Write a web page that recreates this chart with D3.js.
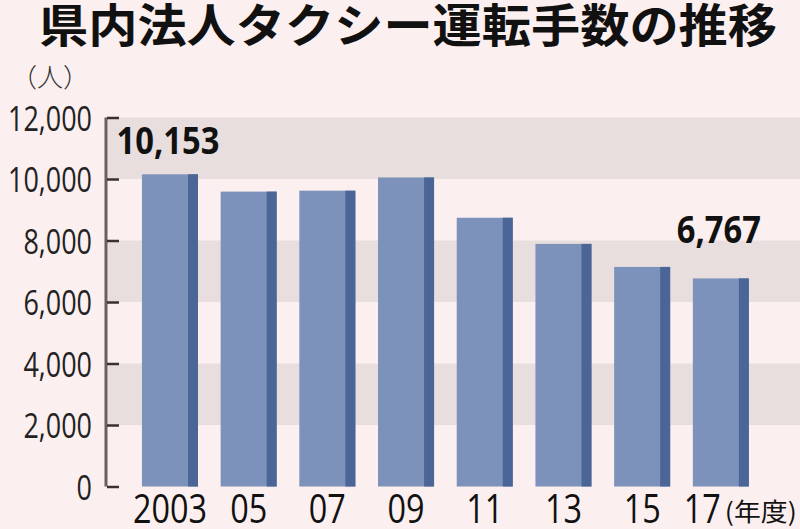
<!DOCTYPE html>
<html><head><meta charset="utf-8">
<script src="https://cdn.jsdelivr.net/npm/d3@7"></script>
<style>
html,body{margin:0;padding:0;background:#fcefef;}
svg{display:block;}
</style></head>
<body>
<svg id="chart" width="800" height="529"></svg>
<script>
const title = "県内法人タクシー運転手数の推移";
const unitLabel = "（人）";
const yearUnit = "(年度)";
const categories = ["2003","05","07","09","11","13","15","17"];
const values = [10153, 9590, 9620, 10050, 8740, 7890, 7140, 6767];
const yTicks = [0, 2000, 4000, 6000, 8000, 10000, 12000];
const bandRanges = [[10000, 12000], [6000, 8000], [2000, 4000]];
const labeledIndex = [0, 7];

const W = 800, H = 529;
const svg = d3.select("#chart");
const bg = "#fcefef", bandColor = "#e9dede";
const barLight = "#7d92bb", barDark = "#4b6696";
const numFont = "'Open Sans', 'Noto Sans', sans-serif";

svg.append("rect").attr("width", W).attr("height", H).attr("fill", bg);

const y = d3.scaleLinear().domain([0, 12000]).range([486.5, 117.5]);
const x = d3.scaleBand().domain(categories).range([130.6, 760.2])
  .paddingInner(0.288).paddingOuter(0.144);

// bands
svg.append("g").selectAll("rect").data(bandRanges).join("rect")
  .attr("x", 108).attr("width", W - 108)
  .attr("y", d => y(d[1])).attr("height", d => y(d[0]) - y(d[1]))
  .attr("fill", bandColor);

// bars
const bw = x.bandwidth(), dark = 10;
const bars = svg.append("g").selectAll("g").data(values).join("g");
bars.append("rect")
  .attr("x", (d, i) => x(categories[i])).attr("width", bw)
  .attr("y", d => y(d)).attr("height", d => y(0) - y(d))
  .attr("fill", barLight);
bars.append("rect")
  .attr("x", (d, i) => x(categories[i]) + bw - dark).attr("width", dark)
  .attr("y", d => y(d)).attr("height", d => y(0) - y(d))
  .attr("fill", barDark);

function squeeze(sel, f) {
  sel.each(function() {
    const L = this.getComputedTextLength();
    d3.select(this).attr("textLength", L * f).attr("lengthAdjust", "spacingAndGlyphs");
  });
}

// y axis
const yAxis = d3.axisRight(y).tickValues(yTicks).tickSize(13).tickPadding(0)
  .tickFormat(d3.format(","));
const ga = svg.append("g").attr("transform", "translate(106,0)").call(yAxis);
ga.select(".domain").attr("stroke", "#6b5e5e").attr("stroke-width", 3)
  .attr("d", `M0,${y(12000)}V${y(0)}`);
ga.selectAll(".tick line").attr("stroke", "#3a3030").attr("stroke-width", 2.5).attr("x1", 1);
ga.selectAll(".tick text")
  .attr("x", -14).attr("dy", "0.36em").attr("text-anchor", "end")
  .attr("font-family", numFont).attr("font-size", 35).attr("fill", "#222");
squeeze(ga.selectAll(".tick text"), 0.77);

// x axis labels
const xAxis = d3.axisBottom(x).tickSize(0).tickPadding(0);
const gx = svg.append("g").call(xAxis);
gx.select(".domain").remove();
gx.selectAll(".tick text")
  .attr("y", 523).attr("dy", 0)
  .attr("font-family", numFont).attr("font-size", 41).attr("fill", "#111");
squeeze(gx.selectAll(".tick text"), 0.79);
// last label shifted left to make room for the unit
const lastTick = gx.selectAll(".tick").filter(d => d === categories[categories.length - 1]);
lastTick.select("text").attr("text-anchor", "end").attr("x", 0);
svg.append("text").attr("x", x(categories[categories.length - 1]) + bw / 2 + 4).attr("y", 521)
  .attr("font-family", "'Noto Sans CJK JP', sans-serif").attr("font-size", 25).attr("fill", "#111")
  .attr("textLength", 72).attr("lengthAdjust", "spacingAndGlyphs")
  .text(yearUnit);

// value labels
const vl = svg.append("g").selectAll("text").data(labeledIndex).join("text")
  .attr("x", i => x(categories[i]) + bw / 2 - 2)
  .attr("y", i => Math.max(y(values[i]) - 35, y(12000) + 36))
  .attr("text-anchor", "middle")
  .attr("font-family", numFont).attr("font-weight", 700).attr("font-size", 38).attr("fill", "#111")
  .text(i => d3.format(",")(values[i]));
squeeze(vl, 0.86);

// unit
svg.append("text").attr("x", 11).attr("y", 87)
  .attr("font-family", "'Noto Sans CJK JP', sans-serif").attr("font-size", 26).attr("font-weight", 300)
  .attr("fill", "#333").text(unitLabel);

// title
svg.append("text").attr("x", 39).attr("y", 42)
  .attr("font-family", "'Noto Sans CJK JP', sans-serif").attr("font-weight", 700).attr("font-size", 46)
  .attr("fill", "#111").attr("textLength", 738).attr("lengthAdjust", "spacingAndGlyphs")
  .text(title);
</script>
</body></html>
